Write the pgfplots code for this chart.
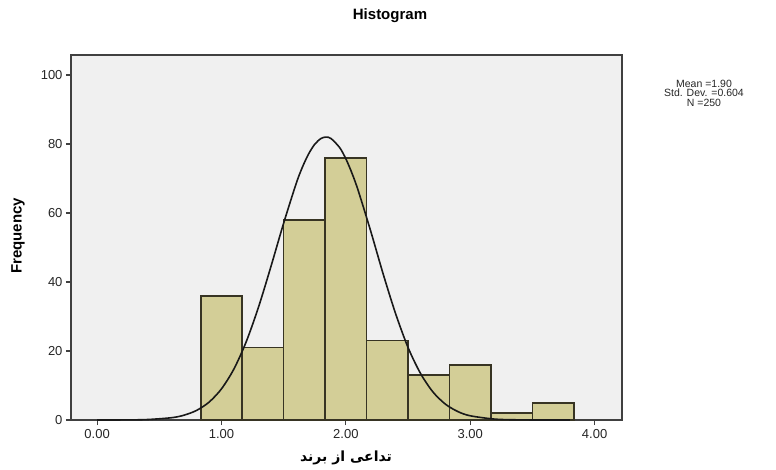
\documentclass[border=0pt]{standalone}
\usepackage{pgfplots}
\pgfplotsset{compat=1.18}
\usepackage{fontspec}
\setmainfont{Liberation Sans}
\newfontfamily\arabicfont[Script=Arabic]{DejaVu Sans}
\TeXXeTstate=1
\definecolor{bgc}{RGB}{240,240,240}
\definecolor{barc}{RGB}{211,206,151}
\definecolor{edgec}{RGB}{55,52,35}
\begin{document}
\begin{tikzpicture}[x=1pt,y=1pt]
\path (0,0) rectangle (776,469);
\begin{axis}[
  at={(71pt,49pt)}, anchor=south west,
  scale only axis, width=551pt, height=365pt,
  xmin=-0.21, xmax=4.22, ymin=0, ymax=105.8,
  axis background/.style={fill=bgc},
  axis line style={draw=black!75, line width=1.5pt},
  tick align=outside, xtick pos=left, ytick pos=left,
  major tick length=5pt,
  tick style={draw=black!75, line width=1.2pt},
  xtick={0,1,2,3,4}, xticklabels={0.00,1.00,2.00,3.00,4.00},
  ytick={0,20,40,60,80,100}, yticklabels={0,20,40,60,80,100},
  tick label style={font=\fontsize{13}{13}\selectfont, text=black!85},
  xticklabel style={yshift=-1pt},
]
\addplot[ybar interval, fill=barc, draw=edgec, line width=1.6pt] coordinates {
(0.8333,36) (1.1667,21) (1.5,58) (1.8333,76) (2.1667,23) (2.5,13) (2.8333,16) (3.1667,2) (3.5,5) (3.8333,0)
};
\addplot[black!90, line width=1.6pt, smooth] coordinates {
(0.0,0.002) (0.2,0.018) (0.4,0.13) (0.6,0.67) (0.7,1.41) (0.8,2.79) (0.9,5.18) (1.0,9.04) (1.1,14.8) (1.2,22.8) (1.3,33.0) (1.4,44.8) (1.5,57.1) (1.6,68.5) (1.65,73.25) (1.7,77.1) (1.75,79.95) (1.8,81.6) (1.84,82.0) (1.88,81.6) (1.95,78.96) (2.0,75.7) (2.05,71.44) (2.1,66.4) (2.2,54.7) (2.3,42.3) (2.4,30.8) (2.5,21.0) (2.6,13.5) (2.7,8.13) (2.8,4.60) (2.9,2.45) (3.0,1.22) (3.2,0.25) (3.4,0.04) (3.6,0.005) (3.8,0.0)
};
\end{axis}
\node at (390,453) {\fontsize{15}{15}\selectfont\bfseries Histogram};
\node[align=center, font=\fontsize{10.5}{9.5}\selectfont, text=black!85] at (704,376) {Mean =1.90\\Std. Dev. =0.604\\N =250};
\node[rotate=90] at (18,233) {\fontsize{15}{15}\selectfont\bfseries Frequency};
\node at (346,11) {\fontsize{14}{14}\selectfont\arabicfont\bfseries\beginR تداعی از برند\endR};
\end{tikzpicture}
\end{document}
